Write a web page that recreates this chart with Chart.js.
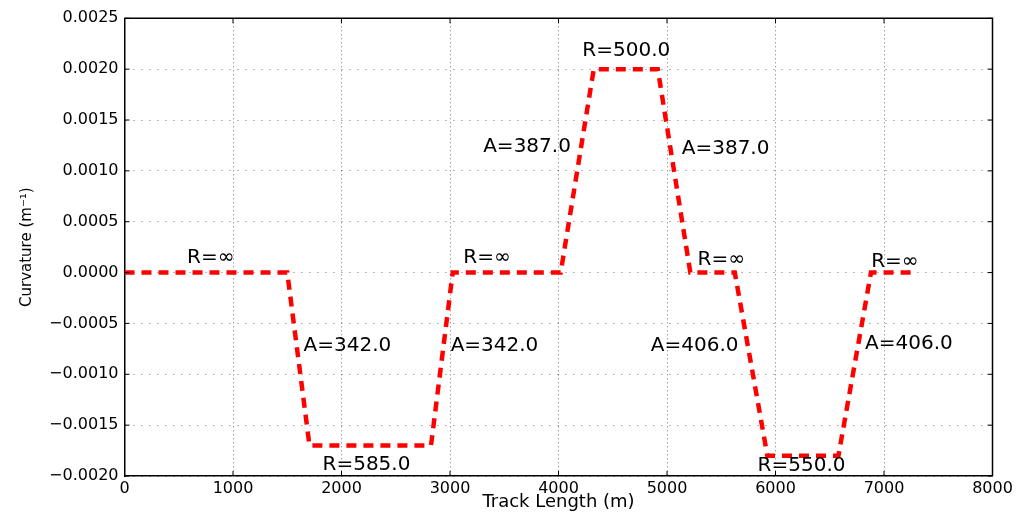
<!DOCTYPE html>
<html>
<head>
<meta charset="utf-8">
<script src="https://cdn.jsdelivr.net/npm/chart.js@4.4.1/dist/chart.umd.min.js"></script>
<style>
  html, body { margin: 0; padding: 0; background: #fff; }
  #wrap { width: 1017px; height: 513px; position: relative; }
</style>
</head>
<body>
<div id="wrap"><canvas id="curve_chart"></canvas></div>
<script>
"use strict";

// track curvature diagram
var trackLength = [0, 1500, 1705, 2825, 3025, 4020, 4325, 4915, 5215, 5625, 5925, 6580, 6880, 7270];
var curvature   = [0, 0, -0.0017, -0.0017, 0, 0, 0.0020, 0.0020, 0, 0, -0.0018, -0.0018, 0, 0];

// text notes on the curve (radius / clothoid parameter)
var noteText = ["R=\u221e", "A=342.0", "R=585.0", "A=342.0", "R=\u221e", "A=387.0", "R=500.0",
                "A=387.0", "R=\u221e", "A=406.0", "R=550.0", "A=406.0", "R=\u221e"];
var noteX = [795, 2055, 2230, 3410, 3340, 3710, 4625, 5540, 5500, 5255, 6240, 7230, 7100];
var noteY = [0.000145, -0.000716, -0.00189, -0.000716, 0.000145, 0.00124, 0.00218,
             0.00122, 0.00013, -0.00072, -0.0019, -0.0007, 0.00011];

var xMin = 0, xMax = 8000, xStep = 1000;
var yMin = -0.0020, yMax = 0.0025, yStep = 0.0005;

var notesPlugin = {
    id: 'notes',
    afterDraw: function(chart) {
        var ctx = chart.ctx;
        var xs = chart.scales.x, ys = chart.scales.y;
        var a = chart.chartArea;
        ctx.save();
        // box top / right
        ctx.strokeStyle = '#000';
        ctx.lineWidth = 1.5;
        ctx.beginPath();
        ctx.moveTo(a.left, a.top);
        ctx.lineTo(a.right, a.top);
        ctx.lineTo(a.right, a.bottom);
        ctx.stroke();
        // inward tick marks
        ctx.lineWidth = 1;
        ctx.beginPath();
        xs.ticks.forEach(function(t) {
            var px = xs.getPixelForValue(t.value);
            ctx.moveTo(px, a.bottom); ctx.lineTo(px, a.bottom - 5);
            ctx.moveTo(px, a.top); ctx.lineTo(px, a.top + 5);
        });
        ys.ticks.forEach(function(t) {
            var py = ys.getPixelForValue(t.value);
            ctx.moveTo(a.left, py); ctx.lineTo(a.left + 5, py);
            ctx.moveTo(a.right, py); ctx.lineTo(a.right - 5, py);
        });
        ctx.stroke();
        // notes
        ctx.fillStyle = '#000';
        ctx.font = '20px "DejaVu Sans"';
        ctx.textAlign = 'center';
        ctx.textBaseline = 'middle';
        for (var i = 0; i < noteText.length; i++) {
            ctx.fillText(noteText[i], xs.getPixelForValue(noteX[i]), ys.getPixelForValue(noteY[i]));
        }
        ctx.restore();
    }
};

var points = trackLength.map(function(v, i) { return {x: v, y: curvature[i]}; });

new Chart(document.getElementById('curve_chart').getContext('2d'), {
    type: 'line',
    data: {
        datasets: [{
            data: points,
            borderColor: '#ff0000',
            borderWidth: 4.5,
            borderDash: [10, 7],
            borderCapStyle: 'butt',
            pointRadius: 0,
            tension: 0,
            fill: false
        }]
    },
    options: {
        responsive: true,
        maintainAspectRatio: false,
        animation: false,
        layout: { padding: { left: 0, right: 24.5, top: 18.3, bottom: 0 } },
        plugins: { legend: { display: false }, tooltip: { enabled: false } },
        scales: {
            x: {
                type: 'linear',
                min: xMin, max: xMax,
                afterFit: function(s) { s.height = 37; },
                ticks: {
                    stepSize: xStep,
                    padding: 3,
                    color: '#000',
                    font: { family: 'DejaVu Sans', size: 16 },
                    callback: function(v) { return String(v); }
                },
                grid: { color: 'rgba(0,0,0,0.55)', lineWidth: 1, drawTicks: false },
                border: { color: '#000', width: 1.5, dash: [1, 3] },
                title: {
                    display: true,
                    text: 'Track Length (m)',
                    color: '#000',
                    font: { family: 'DejaVu Sans', size: 18 },
                    padding: 0
                }
            },
            y: {
                min: yMin, max: yMax,
                afterFit: function(s) { s.width = 124.5; },
                ticks: {
                    stepSize: yStep,
                    padding: 6,
                    color: '#000',
                    font: { family: 'DejaVu Sans', size: 16 },
                    callback: function(v) {
                        if (Math.abs(v) < 1e-12) return '0.0000';
                        return (v < 0 ? '\u2212' : '') + Math.abs(v).toFixed(4);
                    }
                },
                grid: { color: 'rgba(0,0,0,0.55)', lineWidth: 1, drawTicks: false },
                border: { color: '#000', width: 1.5, dash: [1, 7] },
                title: {
                    display: true,
                    text: 'Curvature (m\u207b\u00b9)',
                    color: '#000',
                    font: { family: 'DejaVu Sans', size: 15 },
                    padding: 18
                }
            }
        }
    },
    plugins: [notesPlugin]
});
</script>
</body>
</html>
